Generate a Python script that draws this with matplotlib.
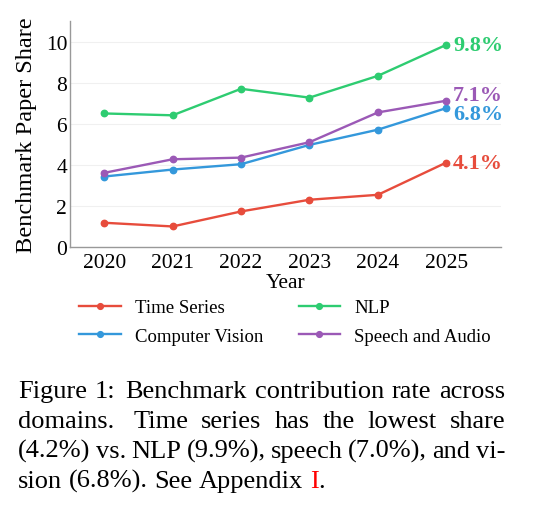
import matplotlib
matplotlib.use("Agg")
import matplotlib.pyplot as plt

plt.rcParams['font.family'] = ['Liberation Serif', 'DejaVu Serif']

years = [2020, 2021, 2022, 2023, 2024, 2025]
series_names = ["Time Series", "Computer Vision", "NLP", "Speech and Audio"]
time_series = [1.18, 1.00, 1.73, 2.30, 2.54, 4.11]
computer_vision = [3.43, 3.77, 4.03, 4.97, 5.71, 6.76]
nlp = [6.50, 6.41, 7.70, 7.27, 8.33, 9.84]
speech_audio = [3.61, 4.27, 4.35, 5.10, 6.55, 7.12]
end_labels = ["4.1%", "6.8%", "9.8%", "7.1%"]
colors = ["#e74c3c", "#3498db", "#2ecc71", "#9b59b6"]
label_dy = [0, -4, 0, 4]  # points offset to avoid overlap

caption_lines = [
    "Figure 1: Benchmark contribution rate across",
    "domains. Time series has the lowest share",
    "(4.2%) vs. NLP (9.9%), speech (7.0%), and vi-",
]
caption_last = ["sion", "(6.8%).", "See", "Appendix"]
caption_ref = "I"

W, H = 535, 510
fig = plt.figure(figsize=(W / 100, H / 100), dpi=100)
ax = fig.add_axes([70 / W, 1 - 248 / H, (501 - 70) / W, (248 - 22) / H])

data = [time_series, computer_vision, nlp, speech_audio]
for name, vals, c, lab, dy in zip(series_names, data, colors, end_labels, label_dy):
    ax.plot(years, vals, color=c, lw=1.7, marker='o', ms=4.6, label=name, zorder=3)
    ax.annotate(lab, (years[-1], vals[-1]), xytext=(5, dy), textcoords='offset points',
                va='center', ha='left', color=c, fontsize=16, fontweight='bold',
                annotation_clip=False)

ax.set_xlim(2019.5, 2025.8)
ax.set_ylim(0, 11)
ax.set_yticks([0, 2, 4, 6, 8, 10])
ax.set_xticks(years)
ax.tick_params(axis='y', length=0, labelsize=15.5, pad=2)
ax.tick_params(axis='x', length=0, labelsize=15.5, pad=4)
ax.yaxis.grid(True, color='#f0f0f0', lw=0.8)
ax.set_axisbelow(True)
for s in ['top', 'right']:
    ax.spines[s].set_visible(False)
for s in ['left', 'bottom']:
    ax.spines[s].set_color('#999999')
    ax.spines[s].set_linewidth(1.0)
ax.set_xlabel("Year", fontsize=15.5, labelpad=1)
ax.set_ylabel("Benchmark Paper Share", fontsize=17.6, labelpad=6.5)

handles, labels = ax.get_legend_handles_labels()
fig.legend(handles, labels, ncol=2, loc='upper left', bbox_to_anchor=(70 / W, 1 - 291 / H),
           frameon=False, fontsize=13.5, handlelength=2.2, handletextpad=0.75,
           columnspacing=1.9, labelspacing=0.6, borderpad=0, markerscale=0.9)

# caption, justified (wider space after sentence punctuation)
cap_fs = 19
x0, x1 = 18 / W, 505 / W
baselines = [398, 428, 458, 488]
fig.canvas.draw()
r = fig.canvas.get_renderer()
for line, yb in zip(caption_lines, baselines[:3]):
    words = line.split()
    texts = [fig.text(0, 1 - yb / H, w, fontsize=cap_fs, va='baseline', ha='left') for w in words]
    widths = [t.get_window_extent(r).width / W for t in texts]
    weights = []
    for w in words[:-1]:
        if w.endswith('.') and w not in ('vs.',):
            weights.append(1.5)
        elif w.endswith(':'):
            weights.append(1.3)
        else:
            weights.append(1.0)
    unit = (x1 - x0 - sum(widths)) / sum(weights)
    x = x0
    for i, (t, w) in enumerate(zip(texts, widths)):
        t.set_x(x)
        if i < len(weights):
            x += w + unit * weights[i]
# last line: natural spacing
sp = fig.text(0, 0, "a b", fontsize=cap_fs)
ab = sp.get_window_extent(r).width
aa = fig.text(0, 0, "ab", fontsize=cap_fs)
space_w = (ab - aa.get_window_extent(r).width) / W
sp.remove(); aa.remove()
x = x0
yb = 1 - baselines[3] / H
for w in caption_last:
    t = fig.text(x, yb, w, fontsize=cap_fs, va='baseline', ha='left')
    x += t.get_window_extent(r).width / W + space_w
t = fig.text(x, yb, caption_ref, fontsize=cap_fs, va='baseline', ha='left', color='#ff0000')
x += t.get_window_extent(r).width / W
fig.text(x, yb, ".", fontsize=cap_fs, va='baseline', ha='left')

fig.savefig("out.png", dpi=100)
